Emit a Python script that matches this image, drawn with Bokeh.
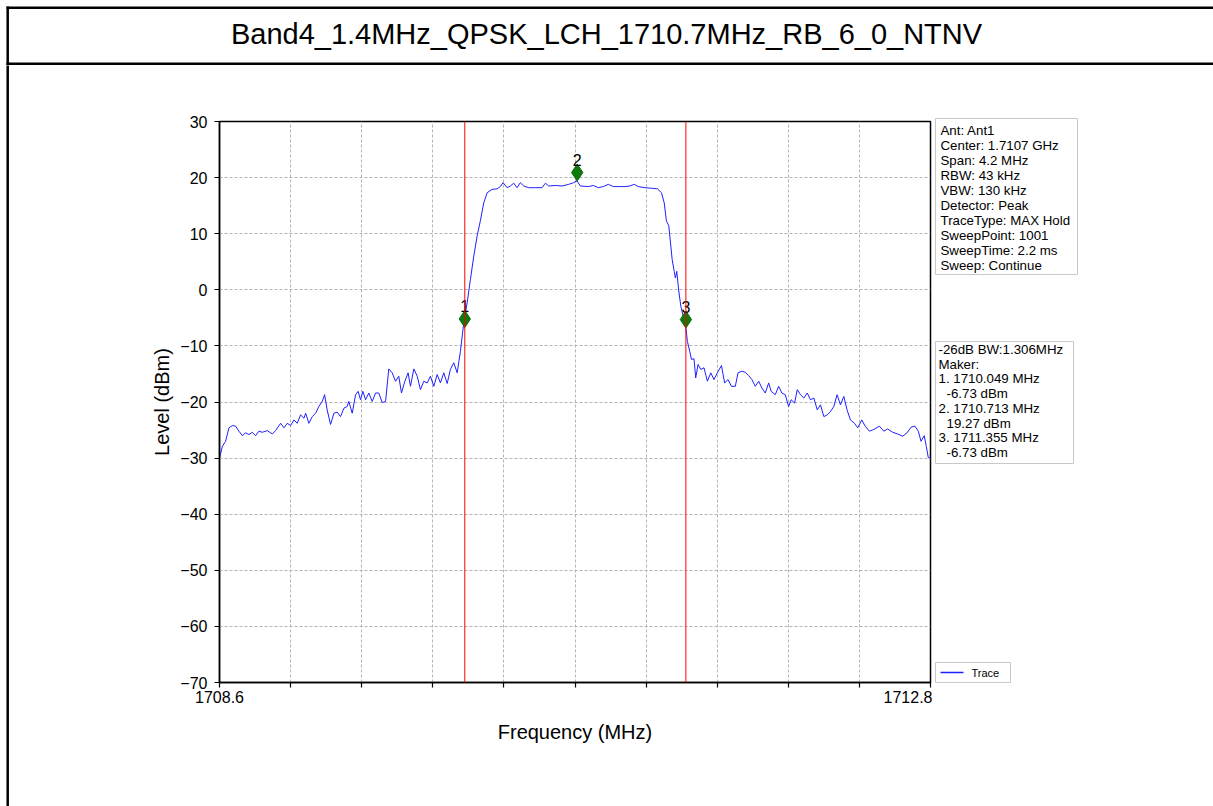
from bokeh.plotting import figure
from bokeh.layouts import column, row
from bokeh.models import Span, FixedTicker, ColumnDataSource, Range1d
from bokeh.embed import file_html
from bokeh.resources import INLINE
from bokeh.core.properties import value

# ---------------- data ----------------
title_text = "Band4_1.4MHz_QPSK_LCH_1710.7MHz_RB_6_0_NTNV"

freq_mhz = [
    1708.600, 1708.617, 1708.636, 1708.656, 1708.676, 1708.695, 1708.715, 1708.735, 1708.754, 1708.774,
    1708.794, 1708.813, 1708.833, 1708.853, 1708.882, 1708.912, 1708.931, 1708.961, 1708.981, 1709.000,
    1709.020, 1709.040, 1709.059, 1709.079, 1709.099, 1709.109, 1709.128, 1709.148, 1709.168, 1709.187,
    1709.207, 1709.221, 1709.236, 1709.256, 1709.276, 1709.295, 1709.315, 1709.335, 1709.354, 1709.364,
    1709.384, 1709.404, 1709.419, 1709.433, 1709.447, 1709.463, 1709.482, 1709.502, 1709.522, 1709.541,
    1709.561, 1709.581, 1709.600, 1709.620, 1709.640, 1709.659, 1709.675, 1709.695, 1709.714, 1709.728,
    1709.748, 1709.768, 1709.787, 1709.807, 1709.827, 1709.846, 1709.866, 1709.886, 1709.905, 1709.925,
    1709.945, 1709.964, 1709.984, 1710.004, 1710.023, 1710.043, 1710.063, 1710.082, 1710.102, 1710.122,
    1710.141, 1710.161, 1710.181, 1710.210, 1710.240, 1710.259, 1710.275, 1710.299, 1710.318, 1710.338,
    1710.358, 1710.377, 1710.397, 1710.427, 1710.466, 1710.505, 1710.525, 1710.545, 1710.584, 1710.623,
    1710.663, 1710.692, 1710.712, 1710.732, 1710.781, 1710.808, 1710.838, 1710.867, 1710.897, 1710.926,
    1710.955, 1710.995, 1711.024, 1711.050, 1711.073, 1711.113, 1711.152, 1711.187, 1711.211, 1711.227,
    1711.240, 1711.254, 1711.266, 1711.274, 1711.286, 1711.293, 1711.301, 1711.313, 1711.325, 1711.339,
    1711.352, 1711.364, 1711.378, 1711.388, 1711.403, 1711.413, 1711.427, 1711.443, 1711.462, 1711.482,
    1711.502, 1711.521, 1711.541, 1711.565, 1711.584, 1711.604, 1711.624, 1711.647, 1711.663, 1711.686,
    1711.706, 1711.726, 1711.745, 1711.765, 1711.785, 1711.804, 1711.824, 1711.844, 1711.859, 1711.883,
    1711.903, 1711.922, 1711.942, 1711.962, 1711.977, 1711.997, 1712.013, 1712.032, 1712.052, 1712.072,
    1712.091, 1712.111, 1712.131, 1712.150, 1712.170, 1712.190, 1712.209, 1712.229, 1712.248, 1712.268,
    1712.288, 1712.307, 1712.327, 1712.351, 1712.370, 1712.394, 1712.414, 1712.439, 1712.465, 1712.498,
    1712.524, 1712.547, 1712.577, 1712.606, 1712.636, 1712.661, 1712.685, 1712.708, 1712.728, 1712.744,
    1712.763, 1712.775, 1712.787, 1712.800,
]
level_dbm = [
    -30.0, -27.9, -27.0, -24.6, -24.2, -24.3, -25.2, -26.0, -25.5, -25.8,
    -25.4, -26.0, -25.2, -25.4, -25.1, -25.7, -25.1, -23.8, -24.6, -23.8,
    -24.2, -23.2, -23.8, -22.3, -22.9, -22.0, -23.8, -22.6, -22.0, -20.8,
    -19.9, -18.7, -21.4, -24.0, -22.0, -21.8, -22.6, -21.1, -20.8, -19.9,
    -22.0, -18.7, -18.1, -19.6, -18.1, -19.6, -18.4, -19.9, -18.4, -18.4,
    -20.1, -19.9, -14.1, -14.8, -16.3, -15.4, -18.4, -16.3, -14.8, -17.2,
    -14.1, -15.4, -17.8, -16.3, -16.6, -15.4, -17.2, -15.1, -16.6, -14.8,
    -16.7, -14.2, -13.0, -14.8, -11.0, -5.9, -2.3, 1.8, 6.0, 9.6,
    12.3, 15.5, 17.3, 17.9, 18.0, 18.4, 19.1, 18.2, 18.5, 19.0,
    18.2, 19.1, 18.5, 18.2, 18.2, 18.2, 19.0, 18.5, 18.6, 18.5,
    18.8, 19.1, 19.4, 18.5, 18.4, 18.6, 18.2, 18.4, 18.8, 18.4,
    18.4, 18.4, 18.5, 18.8, 18.4, 18.2, 18.1, 18.0, 17.3, 15.5,
    12.3, 11.4, 7.8, 5.4, 3.3, 2.1, 3.3, -0.2, -2.9, -4.7,
    -5.9, -9.2, -11.0, -12.4, -12.3, -15.7, -13.3, -14.2, -13.9, -16.3,
    -14.8, -16.0, -14.8, -13.5, -16.6, -16.0, -17.2, -17.2, -14.8, -14.5,
    -14.7, -15.3, -16.0, -17.2, -16.3, -17.5, -18.4, -16.6, -18.1, -18.7,
    -17.2, -18.4, -18.7, -20.8, -19.6, -20.2, -17.8, -18.7, -19.3, -18.4,
    -19.6, -19.3, -21.4, -20.5, -22.6, -22.3, -21.7, -20.8, -18.7, -20.5,
    -19.0, -21.4, -23.2, -23.8, -24.6, -23.2, -24.3, -25.2, -24.9, -24.3,
    -25.2, -24.8, -25.4, -25.7, -26.1, -25.5, -24.5, -24.3, -25.2, -27.0,
    -26.0, -27.9, -29.9, -30.0,
]

marker_ids = ["1", "2", "3"]
marker_freqs = [1710.049, 1710.713, 1711.355]        # values in the marker table
marker_levels = [-6.73, 19.27, -6.73]                # values in the marker table
marker_plot_levels = [-5.2, 20.9, -5.3]              # where the diamonds are drawn
bw_26db_mhz = 1.306
legend_label = "Trace"

settings_lines = [
    "Ant: Ant1",
    "Center: 1.7107 GHz",
    "Span: 4.2 MHz",
    "RBW: 43 kHz",
    "VBW: 130 kHz",
    "Detector: Peak",
    "TraceType: MAX Hold",
    "SweepPoint: 1001",
    "SweepTime: 2.2 ms",
    "Sweep: Continue",
]

x_ticks = [1708.6, 1709.02, 1709.44, 1709.86, 1710.28, 1710.7, 1711.12, 1711.54, 1711.96, 1712.38, 1712.8]
x_tick_labels = ["1708.6", "", "", "", "", "", "", "", "", "", "1712.8"]
y_ticks = [-70, -60, -50, -40, -30, -20, -10, 0, 10, 20, 30]

# ---------------- layout (page pixels) ----------------
FONT = "Liberation Sans"
PAGE_W, PAGE_H = 1213, 806
TOP_H = 65                      # title row height
LEFT_W = 9                      # strip holding the outer left border
MAIN_R = 932                    # right edge of the chart canvas
FRAME_L, FRAME_R, FRAME_T, FRAME_B = 219, 930, 121, 682
TRACE_COLOR = "#2020ff"


def blank(width, height, x0, x1, y_top, y_bot):
    f = figure(width=width, height=height, output_backend="svg", toolbar_location=None,
               x_axis_type=None, y_axis_type=None, title=None,
               x_range=Range1d(x0, x1), y_range=Range1d(y_bot, y_top), min_border=0)
    f.min_border_left = f.min_border_right = f.min_border_top = f.min_border_bottom = 0
    f.frame_align = False
    f.outline_line_color = None
    f.grid.visible = False
    f.background_fill_color = "white"
    f.border_fill_color = "white"
    return f


# ---- title row (each border line is its own renderer) ----
top = blank(PAGE_W, TOP_H, 0, PAGE_W, 0, TOP_H)
top.line(x=[6, PAGE_W + 10], y=[7.2, 7.2], line_color="black", line_width=2.5, line_cap="butt")
top.line(x=[6, PAGE_W + 10], y=[63.2, 63.2], line_color="black", line_width=2.5, line_cap="butt")
top.line(x=[7.2, 7.2], y=[6, TOP_H + 5], line_color="black", line_width=2.5, line_cap="butt")
top.text(x=[606], y=[33], text=[title_text], text_align="center", text_baseline="middle",
         text_font=value(FONT), text_font_size="29px", text_color="black")

# ---- left border strip ----
body_h = PAGE_H - TOP_H
left = blank(LEFT_W, body_h, 0, LEFT_W, TOP_H, PAGE_H)
left.line(x=[7.2, 7.2], y=[TOP_H - 5, PAGE_H + 5], line_color="black", line_width=2.5,
          line_cap="butt")

# ---- main chart ----
p = figure(width=MAIN_R - LEFT_W, height=body_h, output_backend="svg", toolbar_location=None,
           x_range=Range1d(x_ticks[0], x_ticks[-1]), y_range=Range1d(y_ticks[0], y_ticks[-1]),
           title=None)
p.frame_align = False
p.min_border_left = FRAME_L - LEFT_W
p.min_border_right = MAIN_R - FRAME_R
p.min_border_top = FRAME_T - TOP_H
p.min_border_bottom = PAGE_H - FRAME_B
p.background_fill_color = "white"
p.border_fill_color = "white"
p.outline_line_color = "black"
p.outline_line_width = 1.5

for ax in (p.xaxis[0], p.yaxis[0]):
    ax.axis_line_color = "black"
    ax.axis_line_width = 1.5
    ax.major_tick_line_color = "black"
    ax.major_tick_line_width = 1.2
    ax.major_tick_out = 5
    ax.major_tick_in = 0
    ax.minor_tick_line_color = None
    ax.major_label_text_font = FONT
    ax.major_label_text_font_size = "16px"
    ax.major_label_text_color = "black"
    ax.axis_label_text_font = FONT
    ax.axis_label_text_font_size = "20px"
    ax.axis_label_text_font_style = "normal"
    ax.axis_label_text_color = "black"

p.xaxis.ticker = FixedTicker(ticks=x_ticks)
p.xaxis.major_label_overrides = {t: lab for t, lab in zip(x_ticks, x_tick_labels)}
p.xaxis.axis_label = "Frequency (MHz)"
p.xaxis.major_label_standoff = 3
p.xaxis.axis_label_standoff = 15

p.yaxis.ticker = FixedTicker(ticks=y_ticks)
p.yaxis.major_label_overrides = {t: str(t).replace("-", "\u2212") for t in y_ticks}
p.yaxis.axis_label = "Level (dBm)"
p.yaxis.major_label_standoff = 7
p.yaxis.axis_label_standoff = 4

p.grid.grid_line_color = "#b4b4b4"
p.grid.grid_line_dash = "3 2"
p.grid.grid_line_width = 1

for f in (marker_freqs[0], marker_freqs[2]):
    p.add_layout(Span(location=f, dimension="height", line_color="red", line_width=1))

src = ColumnDataSource(dict(f=freq_mhz, l=level_dbm))
p.line("f", "l", source=src, line_color=TRACE_COLOR, line_width=1)

msrc = ColumnDataSource(dict(f=marker_freqs, l=marker_plot_levels, t=marker_ids))
p.scatter("f", "l", source=msrc, marker="diamond", size=17,
          fill_color="#0c7a0c", line_color="#0c6a0c")
p.text("f", "l", text="t", source=msrc, y_offset=-7, text_align="center",
       text_baseline="bottom", text_font=value(FONT), text_font_size="16px", text_color="black")

# ---- right side: info boxes and legend ----
side = blank(PAGE_W - MAIN_R, body_h, MAIN_R, PAGE_W, TOP_H, PAGE_H)
BOX_BORDER = "#c8c8c8"

# box 1: analyzer settings
side.quad(left=[935], right=[1077], top=[118], bottom=[274], fill_color="white",
          line_color=BOX_BORDER, line_width=1)
side.text(x=[940] * len(settings_lines), y=[130 + 15 * i for i in range(len(settings_lines))],
          text=settings_lines, text_align="left", text_baseline="middle",
          text_font=value(FONT), text_font_size="13.3px", text_color="black")

# box 2: bandwidth and markers
box2_text = [f"-26dB BW:{bw_26db_mhz:.3f}MHz", "Maker:"]
box2_x = [938, 938]
for mid, mf, ml in zip(marker_ids, marker_freqs, marker_levels):
    box2_text += [f"{mid}. {mf:.3f} MHz", f"{ml:.2f} dBm"]
    box2_x += [938, 946]
side.quad(left=[935], right=[1073], top=[341], bottom=[463], fill_color="white",
          line_color=BOX_BORDER, line_width=1)
side.text(x=box2_x, y=[349 + 14.7 * i for i in range(len(box2_text))], text=box2_text,
          text_align="left", text_baseline="middle",
          text_font=value(FONT), text_font_size="13.3px", text_color="black")

# legend
side.quad(left=[935], right=[1010], top=[662], bottom=[682], fill_color="white",
          line_color=BOX_BORDER, line_width=1)
side.line(x=[940, 963], y=[672, 672], line_color=TRACE_COLOR, line_width=1.5)
side.text(x=[971], y=[672], text=[legend_label], text_align="left", text_baseline="middle",
          text_font=value(FONT), text_font_size="11px", text_color="black")

layout = column(top, row(left, p, side, spacing=0), spacing=0)
open("out.html", "w").write(file_html(layout, INLINE))
